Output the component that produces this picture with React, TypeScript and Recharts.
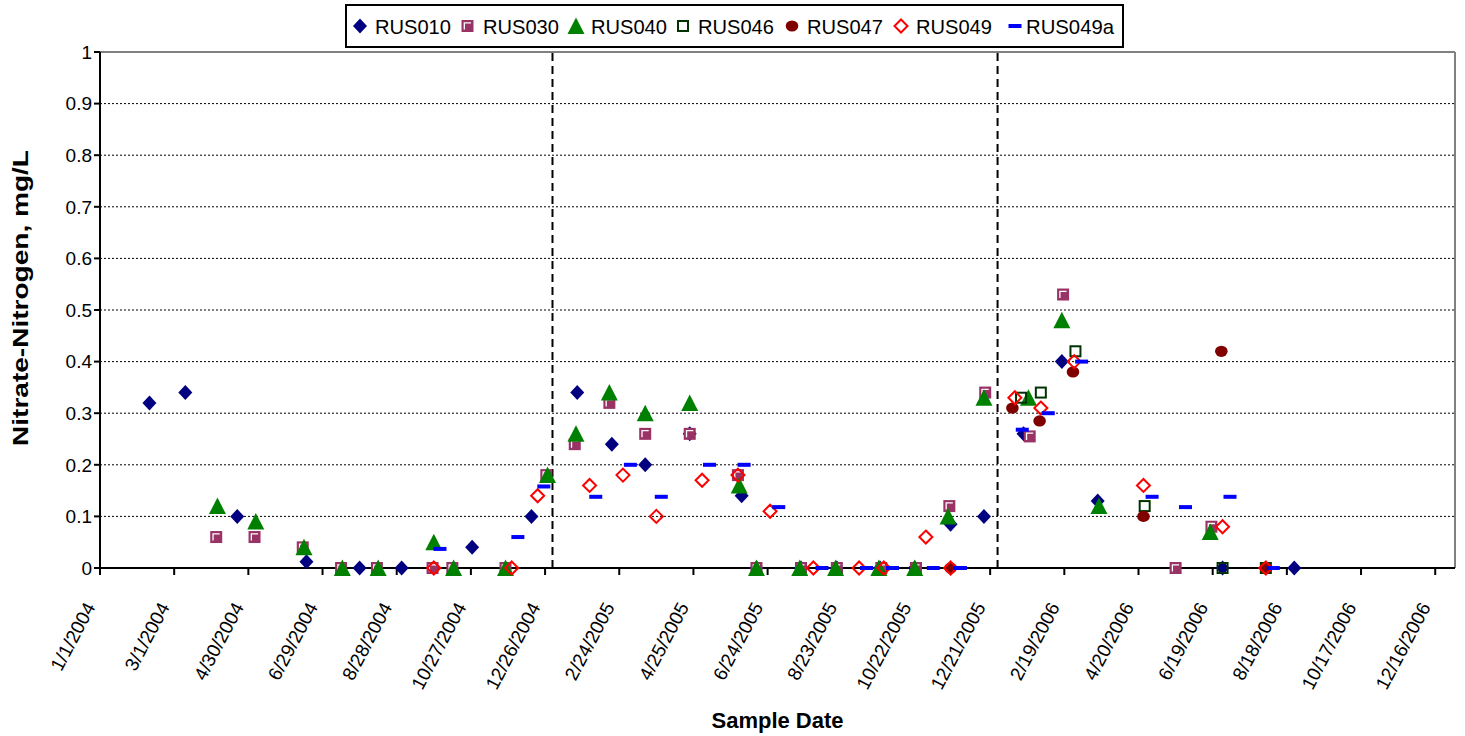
import React from 'react';
import {
  ScatterChart,
  Scatter,
  XAxis,
  YAxis,
  CartesianGrid,
  ReferenceLine,
  Customized,
} from 'recharts';

const FONT = '"Liberation Sans", Arial, Helvetica, sans-serif';

// ---------- axis definitions ----------
const xTickLabels = [
  '1/1/2004', '3/1/2004', '4/30/2004', '6/29/2004', '8/28/2004', '10/27/2004',
  '12/26/2004', '2/24/2005', '4/25/2005', '6/24/2005', '8/23/2005', '10/22/2005',
  '12/21/2005', '2/19/2006', '4/20/2006', '6/19/2006', '8/18/2006', '10/17/2006',
  '12/16/2006',
];
const axisStartDate = '1/1/2004';
const axisEndDate = '1/1/2007';
const yTicks = [0, 0.1, 0.2, 0.3, 0.4, 0.5, 0.6, 0.7, 0.8, 0.9, 1];
const periodBreakDates = ['1/1/2005', '12/27/2005'];

// ---------- series data ----------
const rus010Dates = [
  '2/10/2004', '3/10/2004', '4/21/2004', '6/16/2004', '7/29/2004', '9/1/2004',
  '10/28/2004', '12/15/2004', '1/21/2005', '2/18/2005', '3/17/2005', '4/22/2005',
  '6/3/2005', '6/15/2005', '7/21/2005', '8/19/2005', '9/23/2005', '10/21/2005',
  '11/19/2005', '12/16/2005', '1/17/2006', '2/17/2006', '3/18/2006', '6/27/2006',
  '8/24/2006',
];
const rus010Values = [
  0.32, 0.34, 0.1, 0.012, 0, 0, 0.04, 0.1, 0.34, 0.24, 0.2, 0.26, 0.14, 0, 0, 0, 0, 0,
  0.085, 0.1, 0.26, 0.4, 0.13, 0, 0,
];

const rus030Dates = [
  '4/4/2004', '5/5/2004', '6/13/2004', '7/14/2004', '8/12/2004', '9/26/2004',
  '10/12/2004', '11/24/2004', '12/27/2004', '1/19/2005', '2/16/2005', '3/17/2005',
  '4/22/2005', '5/31/2005', '6/15/2005', '7/21/2005', '8/19/2005', '9/24/2005',
  '10/22/2005', '11/18/2005', '12/17/2005', '1/22/2006', '2/18/2006', '5/20/2006',
  '6/18/2006',
];
const rus030Values = [
  0.06, 0.06, 0.04, 0, 0, 0, 0, 0, 0.18, 0.24, 0.32, 0.26, 0.26, 0.18, 0, 0, 0, 0, 0,
  0.12, 0.34, 0.255, 0.53, 0, 0.08,
];

const rus040Dates = [
  '4/5/2004', '5/6/2004', '6/14/2004', '7/15/2004', '8/13/2004', '9/27/2004',
  '10/13/2004', '11/24/2004', '12/28/2004', '1/20/2005', '2/16/2005', '3/17/2005',
  '4/22/2005', '6/1/2005', '6/15/2005', '7/20/2005', '8/18/2005', '9/22/2005',
  '10/21/2005', '11/17/2005', '12/16/2005', '1/21/2006', '2/17/2006', '3/19/2006',
  '6/17/2006',
];
const rus040Values = [
  0.12, 0.09, 0.04, 0, 0, 0.05, 0, 0, 0.18, 0.26, 0.34, 0.3, 0.32, 0.16, 0, 0, 0, 0, 0,
  0.1, 0.33, 0.33, 0.48, 0.12, 0.07,
];

const rus046Dates = ['1/15/2006', '1/31/2006', '2/28/2006', '4/25/2006', '6/27/2006', '8/1/2006'];
const rus046Values = [0.33, 0.34, 0.42, 0.12, 0, 0];

const rus047Dates = ['11/19/2005', '1/8/2006', '1/30/2006', '2/26/2006', '4/24/2006', '6/26/2006', '8/1/2006'];
const rus047Values = [0, 0.31, 0.285, 0.38, 0.1, 0.42, 0];

const rus049Dates = [
  '9/27/2004', '11/29/2004', '12/20/2004', '1/31/2005', '2/27/2005', '3/26/2005',
  '5/2/2005', '5/31/2005', '6/26/2005', '7/31/2005', '9/6/2005', '9/26/2005',
  '10/30/2005', '11/19/2005', '1/10/2006', '1/31/2006', '2/27/2006', '4/24/2006',
  '6/27/2006', '8/1/2006',
];
const rus049Values = [
  0, 0, 0.14, 0.16, 0.18, 0.1, 0.17, 0.18, 0.11, 0, 0, 0, 0.06, 0, 0.33, 0.31, 0.4, 0.16,
  0.08, 0,
];

const rus049aDates = [
  '10/2/2004', '12/4/2004', '12/25/2004', '2/5/2005', '3/5/2005', '3/30/2005',
  '5/8/2005', '6/5/2005', '7/3/2005', '8/7/2005', '9/12/2005', '10/3/2005',
  '11/5/2005', '11/27/2005', '1/16/2006', '2/6/2006', '3/5/2006', '5/1/2006',
  '5/28/2006', '7/3/2006', '8/7/2006',
];
const rus049aValues = [
  0.037, 0.06, 0.158, 0.138, 0.2, 0.138, 0.2, 0.2, 0.118, 0, 0, 0, 0, 0, 0.268, 0.3, 0.4,
  0.138, 0.118, 0.138, 0,
];

// ---------- helpers ----------
const DAY_MS = 86400000;
const parseDate = (s: string) => {
  const [m, d, y] = s.split('/').map(Number);
  return Date.UTC(y, m - 1, d);
};
const ORIGIN = parseDate(axisStartDate);
const toDay = (s: string) => Math.round((parseDate(s) - ORIGIN) / DAY_MS);
const fmtDay = (day: number) => {
  const dt = new Date(ORIGIN + day * DAY_MS);
  return `${dt.getUTCMonth() + 1}/${dt.getUTCDate()}/${dt.getUTCFullYear()}`;
};
const zip = (dates: string[], values: number[]) =>
  dates.map((d, i) => ({ x: toDay(d), y: values[i] }));

const xTicks = xTickLabels.map(toDay);
const endDay = toDay(axisEndDate);

// ---------- marker shapes ----------
const NAVY = '#000080';
const PLUM = '#993366';
const GREEN = '#008000';
const DKGREEN = '#003300';
const MAROON = '#800000';
const RED = '#FF0000';
const BLUE = '#0000FF';

const Diamond = ({ cx, cy }: any) => (
  <polygon points={`${cx},${cy - 7.5} ${cx + 7},${cy} ${cx},${cy + 7.5} ${cx - 7},${cy}`} fill={NAVY} />
);
const PlumSquare = ({ cx, cy }: any) => (
  <g>
    <rect x={cx - 6} y={cy - 6} width={12} height={12} fill={PLUM} />
    <polyline
      points={`${cx - 3.2},${cy + 3.5} ${cx - 3.2},${cy - 3.2} ${cx + 3.5},${cy - 3.2}`}
      fill="none"
      stroke="#fff"
      strokeWidth={1.3}
    />
  </g>
);
const Triangle = ({ cx, cy }: any) => (
  <polygon points={`${cx},${cy - 8.5} ${cx + 8.5},${cy + 8} ${cx - 8.5},${cy + 8}`} fill={GREEN} />
);
const OpenSquare = ({ cx, cy }: any) => (
  <rect x={cx - 5} y={cy - 5} width={10} height={10} fill="none" stroke={DKGREEN} strokeWidth={2} />
);
const Dot = ({ cx, cy }: any) => <ellipse cx={cx} cy={cy} rx={6.3} ry={5.6} fill={MAROON} />;
const OpenDiamond = ({ cx, cy }: any) => (
  <polygon
    points={`${cx},${cy - 6.5} ${cx + 6.5},${cy} ${cx},${cy + 6.5} ${cx - 6.5},${cy}`}
    fill="none"
    stroke={RED}
    strokeWidth={2}
  />
);
const Dash = ({ cx, cy }: any) => <rect x={cx - 6.5} y={cy - 2} width={13} height={4} fill={BLUE} />;

const seriesList = [
  { name: 'RUS010', data: zip(rus010Dates, rus010Values), Shape: Diamond },
  { name: 'RUS030', data: zip(rus030Dates, rus030Values), Shape: PlumSquare },
  { name: 'RUS040', data: zip(rus040Dates, rus040Values), Shape: Triangle },
  { name: 'RUS046', data: zip(rus046Dates, rus046Values), Shape: OpenSquare },
  { name: 'RUS047', data: zip(rus047Dates, rus047Values), Shape: Dot },
  { name: 'RUS049', data: zip(rus049Dates, rus049Values), Shape: OpenDiamond },
  { name: 'RUS049a', data: zip(rus049aDates, rus049aValues), Shape: Dash },
];

// ---------- legend ----------
const legendMarkerX = [360, 467.5, 576, 683, 792, 901, 1015];
const legendTextX = [375, 483, 591, 698, 807, 916, 1026];

const LegendBox = () => (
  <g>
    <rect x={346} y={5} width={777} height={42} fill="#fff" stroke="#000" strokeWidth={2} />
    {seriesList.map((s, i) => {
      const Shape = s.Shape;
      return (
        <g key={s.name}>
          <Shape cx={legendMarkerX[i]} cy={26} />
          <text
            x={legendTextX[i]}
            y={34}
            fontSize={21}
            fontFamily={FONT}
            fill="#000"
            textLength={s.name.length === 7 ? 88 : 76}
            lengthAdjust="spacingAndGlyphs"
          >
            {s.name}
          </text>
        </g>
      );
    })}
  </g>
);

// ---------- ticks / titles ----------
const DateTick = ({ x, y, payload }: any) => {
  const ax = x - 4;
  const ay = y + 30;
  return (
    <text
      x={ax}
      y={ay}
      textAnchor="end"
      transform={`rotate(-62, ${ax}, ${ay})`}
      fontSize={19}
      fontFamily={FONT}
      fill="#000"
    >
      {fmtDay(payload.value)}
    </text>
  );
};

const YTitle = (props: any) => {
  const vb = props.viewBox || { x: 0, y: 52, width: 100, height: 516 };
  const cx = vb.x + 28;
  const cy = vb.y + vb.height / 2 - 12;
  return (
    <text
      x={cx}
      y={cy}
      textAnchor="middle"
      transform={`rotate(-90, ${cx}, ${cy})`}
      fontSize={22}
      fontWeight="bold"
      fontFamily={FONT}
      fill="#000"
      textLength={296}
      lengthAdjust="spacingAndGlyphs"
    >
      Nitrate-Nitrogen, mg/L
    </text>
  );
};

const fmtY = (v: number) => (v === 0 ? '0' : v === 1 ? '1' : v.toFixed(1));

export default function App() {
  return (
    <div style={{ position: 'absolute', left: 0, top: 0, width: 1465, height: 736, background: '#fff' }}>
      <ScatterChart width={1465} height={736} margin={{ top: 52, right: 10, bottom: 0, left: 0 }}>
        <CartesianGrid horizontal vertical={false} stroke="#000" strokeDasharray="2 2" strokeWidth={1} />
        <XAxis
          type="number"
          dataKey="x"
          domain={[0, endDay]}
          ticks={xTicks}
          interval={0}
          height={168}
          tick={<DateTick />}
          tickSize={7}
          axisLine={{ stroke: '#000', strokeWidth: 2 }}
          tickLine={{ stroke: '#000', strokeWidth: 2 }}
          label={{
            value: 'Sample Date',
            position: 'insideBottom',
            offset: 8,
            fill: '#000',
            fontSize: 22,
            fontWeight: 'bold',
            fontFamily: FONT,
          }}
        />
        <YAxis
          type="number"
          dataKey="y"
          domain={[0, 1]}
          ticks={yTicks}
          interval={0}
          width={100}
          tickSize={6}
          tickFormatter={fmtY}
          tick={{ fill: '#000', fontSize: 19, fontFamily: FONT }}
          axisLine={{ stroke: '#000', strokeWidth: 2 }}
          tickLine={{ stroke: '#000', strokeWidth: 2 }}
          label={(p: any) => <YTitle {...p} />}
        />
        <ReferenceLine y={1} stroke="#808080" strokeWidth={2} />
        <ReferenceLine x={endDay} stroke="#808080" strokeWidth={2} />
        {periodBreakDates.map((d) => (
          <ReferenceLine key={d} x={toDay(d)} stroke="#000" strokeWidth={2} strokeDasharray="8 5" />
        ))}
        {seriesList.map((s) => {
          const Shape = s.Shape;
          return (
            <Scatter
              key={s.name}
              name={s.name}
              data={s.data}
              isAnimationActive={false}
              shape={(p: any) => <Shape cx={p.cx} cy={p.cy} />}
            />
          );
        })}
        <Customized component={LegendBox} />
      </ScatterChart>
    </div>
  );
}
